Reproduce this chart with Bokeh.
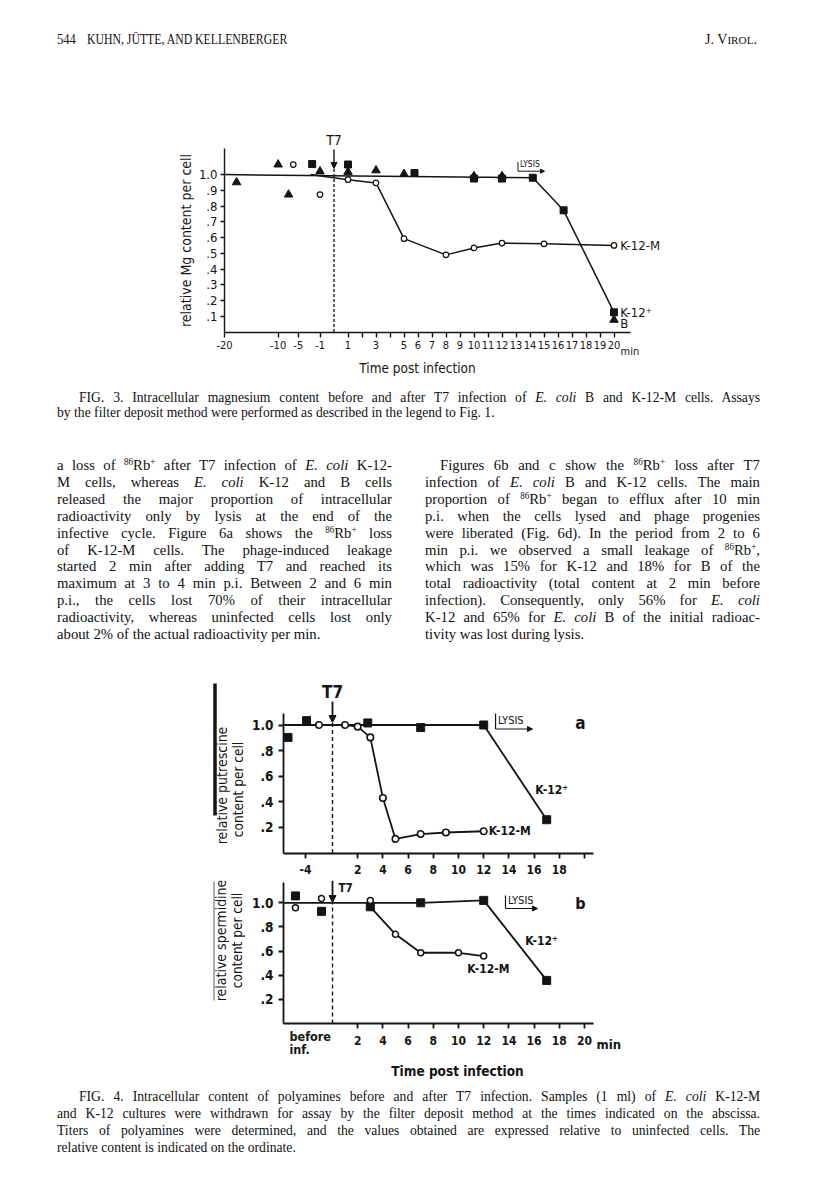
import math
import numpy as np
from bokeh.plotting import figure
from bokeh.models import Div, FixedTicker, Label, Arrow, NormalHead, Range1d
from bokeh.layouts import column
from bokeh.embed import file_html
from bokeh.resources import INLINE

SANS = "DejaVu Sans Condensed"
SERIF = "Liberation Serif"
INK = "#141414"
W = 816

# ================= FIG. 3 : relative Mg content per cell =================
f3_b_time = [-17.75, -10, -7.4, -1, 1, 3, 5, 10, 12, 20]
f3_b_mg = [0.951, 1.064, 0.873, 1.02, 1.017, 1.027, 1.004, 0.99, 0.99, 0.077]
f3_k12_time = [-2.45, 1, 5.75, 10, 12, 14.2, 16.4, 20]
f3_k12_mg = [1.067, 1.064, 1.01, 0.975, 0.975, 0.98, 0.773, 0.125]
f3_k12m_time = [-6.25, -1, 1, 3, 5, 8, 10, 12, 15, 20]
f3_k12m_mg = [1.064, 0.873, 0.968, 0.947, 0.593, 0.49, 0.534, 0.565, 0.56, 0.55]
f3_k12_curve_time = [-20, 14.2, 16.4, 20]
f3_k12_curve_mg = [1.0, 0.98, 0.773, 0.125]
f3_k12m_curve_time = [-2.75, 1, 3, 5, 8, 10, 12, 15, 20]
f3_k12m_curve_mg = [1.0, 0.968, 0.947, 0.593, 0.49, 0.534, 0.565, 0.56, 0.55]
f3_tick_times = [-20, -10, -5, -1] + list(range(1, 21))
f3_tick_labels = ["-20", "-10", "-5", "-1", "1", "", "3", "", "5", "6", "7", "8", "9",
                  "10", "11", "12", "13", "14", "15", "16", "17", "18", "19", "20"]
f3_y_ticks = [0.1, 0.2, 0.3, 0.4, 0.5, 0.6, 0.7, 0.8, 0.9, 1.0]
f3_y_labels = [".1", ".2", ".3", ".4", ".5", ".6", ".7", ".8", ".9", "1.0"]
f3_lysis_time = 13.14
# broken time axis: minutes before infection are compressed
f3_axis_time = [-20, -10, -5, -1, 30]
f3_axis_pos = [-7.82, -3.99, -2.55, -1.0, 30]

# ================= FIG. 4 : polyamines =================
f4a_k12_time = [-6.6, -3.85, 2.8, 7, 12, 17]
f4a_k12_put = [0.903, 1.034, 1.016, 0.98, 1.0, 0.26]
f4a_k12m_time = [-2.0, 1, 2, 3, 4, 5, 7, 9, 12]
f4a_k12m_put = [1.0, 1.0, 0.987, 0.903, 0.43, 0.11, 0.148, 0.16, 0.17]
f4a_k12_curve_time = [-7.27, 12, 17]
f4a_k12_curve_put = [1.0, 1.0, 0.26]
f4a_k12m_curve_time = [1, 2, 3, 4, 5, 7, 9, 12]
f4a_k12m_curve_put = [1.0, 0.987, 0.903, 0.43, 0.11, 0.148, 0.16, 0.17]

f4b_k12_time = [-5.5, -1.63, 3, 7, 12, 17]
f4b_k12_spd = [1.057, 0.929, 0.967, 1.0, 1.02, 0.357]
f4b_k12m_time = [-5.5, -1.63, 3, 5, 7, 10, 12]
f4b_k12m_spd = [0.96, 1.035, 1.02, 0.739, 0.586, 0.586, 0.559]
f4b_k12_curve_time = [-7.27, 7, 12, 17]
f4b_k12_curve_spd = [1.0, 1.0, 1.02, 0.357]
f4b_k12m_curve_time = [3, 5, 7, 10, 12]
f4b_k12m_curve_spd = [0.967, 0.739, 0.586, 0.586, 0.559]

f4a_tick_times = [-4, 2, 4, 6, 8, 10, 12, 14, 16, 18, 20]
f4a_tick_labels = ["-4", "2", "4", "6", "8", "10", "12", "14", "16", "18", ""]
f4b_tick_times = [2, 4, 6, 8, 10, 12, 14, 16, 18, 20]
f4b_tick_labels = ["2", "4", "6", "8", "10", "12", "14", "16", "18", "20"]
f4_y_ticks = [0.2, 0.4, 0.6, 0.8, 1.0]
f4_y_labels = [".2", ".4", ".6", ".8", "1.0"]
f4_lysis_time = [12.94, 13.73]
f4_axis_time = [-10, 0, 30]
f4_axis_pos = [-5.35, 0, 30]


def f3_pos(t):
    return np.interp(np.asarray(t, dtype=float), f3_axis_time, f3_axis_pos)


def f4_pos(t):
    return np.interp(np.asarray(t, dtype=float), f4_axis_time, f4_axis_pos)


# page-pixel geometry of each panel (used for placing annotations)
F3_X0, F3_PX, F3_Y0, F3_PY, F3_TOP, F3_BOT = 333.5, 14.0, 331.5, 157.4, 120, 385
F4_X0, F4_PX = 332.0, 12.6
F4A_Y0, F4A_PY, F4A_TOP, F4A_BOT = 852.5, 128.0, 660, 880
F4B_Y0, F4B_PY, F4B_TOP, F4B_BOT = 1023.0, 120.7, 880, 1085


def f3x(px): return (px - F3_X0) / F3_PX
def f3y(py): return (F3_Y0 - py) / F3_PY
def f4x(px): return (px - F4_X0) / F4_PX
def f4ay(py): return (F4A_Y0 - py) / F4A_PY
def f4by(py): return (F4B_Y0 - py) / F4B_PY


def make_fig(height, xr, yr):
    p = figure(width=W, height=height, x_range=Range1d(*xr), y_range=Range1d(*yr),
               title=None, output_backend="svg", toolbar_location=None,
               outline_line_color=None, background_fill_color="white",
               border_fill_color="white")
    p.min_border_left = p.min_border_right = p.min_border_top = p.min_border_bottom = 0
    p.grid.visible = False
    return p


def style_axis(ax, ticks, labels, bounds, fixed, size, tick_out, standoff, width=1.6,
               weight="normal"):
    ax.fixed_location = float(fixed)
    ax.ticker = FixedTicker(ticks=[float(t) for t in ticks])
    ax.major_label_overrides = {float(t): l for t, l in zip(ticks, labels)}
    ax.bounds = (float(bounds[0]), float(bounds[1]))
    ax.axis_line_color = INK
    ax.axis_line_width = width
    ax.major_tick_line_color = INK
    ax.major_tick_line_width = width
    ax.major_tick_in = 0
    ax.major_tick_out = tick_out
    ax.minor_tick_line_color = None
    ax.major_label_text_font = SANS
    ax.major_label_text_font_size = f"{size}px"
    ax.major_label_text_font_style = weight
    ax.major_label_text_color = INK
    ax.major_label_standoff = standoff


def add_label(p, x, y, text, size, align="left", baseline="middle", angle=0.0, style="normal"):
    p.add_layout(Label(x=float(x), y=float(y), text=text, text_font=SANS,
                       text_font_size=f"{size}px", text_align=align, text_baseline=baseline,
                       angle=angle, text_color=INK, text_font_style=style))


def add_seg(p, x0, y0, x1, y1, width=1.5, dash="solid", head=None, color=INK):
    p.add_layout(Arrow(x_start=float(x0), y_start=float(y0), x_end=float(x1), y_end=float(y1),
                       end=head, start=None, line_width=width, line_color=color, line_dash=dash))


def head(size):
    return NormalHead(size=size, fill_color=INK, line_color=INK, line_width=1)


# ------------------------------ FIG. 3 ------------------------------
p3 = make_fig(F3_BOT - F3_TOP, (f3x(0), f3x(W)), (f3y(F3_BOT), f3y(F3_TOP)))
f3_x_start = float(f3_pos(-20))
style_axis(p3.xaxis[0], list(f3_pos(f3_tick_times)), f3_tick_labels,
           (f3_x_start, f3x(630)), 0.0, 11, 5, 4, 1.4)
style_axis(p3.yaxis[0], f3_y_ticks, f3_y_labels, (0.0, f3y(148)), f3_x_start, 13, 4, 3, 1.4)

p3.line(f3_pos(f3_k12_curve_time), f3_k12_curve_mg, line_color=INK, line_width=1.5)
p3.line(f3_pos(f3_k12m_curve_time), f3_k12m_curve_mg, line_color=INK, line_width=1.5)
p3.scatter(f3_pos(f3_b_time), f3_b_mg, marker="triangle", size=8.5, color=INK)
p3.scatter(f3_pos(f3_k12_time), f3_k12_mg, marker="square", size=7, color=INK)
p3.scatter(f3_pos(f3_k12m_time), f3_k12m_mg, marker="circle", size=5.5,
           fill_color="white", line_color=INK, line_width=1.2)

x_inf3 = float(f3_pos(0))
add_seg(p3, x_inf3, 0.0, x_inf3, f3y(168), 1.3, "3 2")
add_seg(p3, x_inf3, f3y(149), x_inf3, f3y(168), 1.4, head=head(6))
add_label(p3, x_inf3, f3y(147), "T7", 14, "center", "bottom")
xl3 = float(f3_pos(f3_lysis_time))
add_seg(p3, xl3, f3y(161.5), xl3, f3y(170.7), 1.0)
add_seg(p3, xl3, f3y(170.7), f3x(544), f3y(170.7), 1.0, head=head(4))
add_label(p3, xl3 + 0.15, f3y(168.8), "LYSIS", 8.5, "left", "bottom")
add_label(p3, float(f3_pos(f3_k12m_time[-1])) + 0.45, f3_k12m_mg[-1], "K-12-M", 13)
add_label(p3, float(f3_pos(f3_k12_time[-1])) + 0.45, f3_k12_mg[-1], "K-12\u207a", 13)
add_label(p3, float(f3_pos(f3_b_time[-1])) + 0.45, f3_b_mg[-1] - 0.02, "B", 13)
add_label(p3, f3x(620), f3y(351), "min", 11, "left", "alphabetic")
add_label(p3, f3x(417), f3y(367), "Time post infection", 13.5, "center", "middle")
add_label(p3, f3x(185.5), f3y(240), "relative Mg content per cell", 14, "center", "middle",
          math.pi / 2)

# ------------------------------ FIG. 4a ------------------------------
f4_x_start = f4x(283)
f4_x_end = f4x(593)
p4a = make_fig(F4A_BOT - F4A_TOP, (f4x(0), f4x(W)), (f4ay(F4A_BOT), f4ay(F4A_TOP)))
style_axis(p4a.xaxis[0], list(f4_pos(f4a_tick_times)), f4a_tick_labels,
           (f4_x_start, f4_x_end), 0.0, 12, 5, 7, 1.8, "bold")
style_axis(p4a.yaxis[0], f4_y_ticks, f4_y_labels, (0.0, f4ay(713)), f4_x_start, 13.5, 5, 5, 1.8,
           "bold")

p4a.line(f4_pos(f4a_k12_curve_time), f4a_k12_curve_put, line_color=INK, line_width=1.8)
p4a.line(f4_pos(f4a_k12m_curve_time), f4a_k12m_curve_put, line_color=INK, line_width=1.8)
p4a.scatter(f4_pos(f4a_k12_time), f4a_k12_put, marker="square", size=8, color=INK)
p4a.scatter(f4_pos(f4a_k12m_time), f4a_k12m_put, marker="circle", size=6.5,
            fill_color="white", line_color=INK, line_width=1.6)

add_seg(p4a, 0, 0.0, 0, 1.02, 1.4, "4 3")
add_seg(p4a, 0, f4ay(701), 0, f4ay(722), 1.8, head=head(7))
add_label(p4a, 0, f4ay(691.5), "T7", 17, "center", "middle", style="bold")
xl4a = f4_lysis_time[0]
add_seg(p4a, xl4a, f4ay(713), xl4a, f4ay(728.5), 1.2)
add_seg(p4a, xl4a, f4ay(728.5), f4x(532), f4ay(728.5), 1.2, head=head(5))
add_label(p4a, xl4a + 0.2, f4ay(726), "LYSIS", 11, "left", "bottom")
add_label(p4a, f4x(580), f4ay(722), "a", 17, "center", "middle", style="bold")
add_label(p4a, f4a_k12_time[-1] - 0.9, f4a_k12_put[-1] + 0.23, "K-12\u207a", 12, style="bold")
add_label(p4a, f4a_k12m_time[-1] + 0.4, f4a_k12m_put[-1], "K-12-M", 12, style="bold")
add_label(p4a, f4x(221), f4ay(785), "relative putrescine", 14, "center", "middle", math.pi / 2)
add_label(p4a, f4x(237.5), f4ay(789), "content per cell", 13.5, "center", "middle", math.pi / 2)
add_seg(p4a, f4x(214.5), f4ay(683), f4x(214.5), f4ay(815), 3.5)

# ------------------------------ FIG. 4b ------------------------------
p4b = make_fig(F4B_BOT - F4B_TOP, (f4x(0), f4x(W)), (f4by(F4B_BOT), f4by(F4B_TOP)))
style_axis(p4b.xaxis[0], f4b_tick_times, f4b_tick_labels,
           (f4_x_start, f4_x_end), 0.0, 12, 5, 7, 1.8, "bold")
style_axis(p4b.yaxis[0], f4_y_ticks, f4_y_labels, (0.0, f4by(882)), f4_x_start, 13.5, 5, 5, 1.8,
           "bold")

p4b.line(f4_pos(f4b_k12_curve_time), f4b_k12_curve_spd, line_color=INK, line_width=1.8)
p4b.line(f4_pos(f4b_k12m_curve_time), f4b_k12m_curve_spd, line_color=INK, line_width=1.8)
p4b.scatter(f4_pos(f4b_k12_time), f4b_k12_spd, marker="square", size=8, color=INK)
p4b.scatter(f4_pos(f4b_k12m_time), f4b_k12m_spd, marker="circle", size=6,
            fill_color="white", line_color=INK, line_width=1.5)

add_seg(p4b, 0, 0.0, 0, 1.0, 1.4, "4 3")
add_seg(p4b, 0, f4by(880), 0, f4by(902), 1.8, head=head(7))
add_label(p4b, f4x(338), f4by(887), "T7", 11.5, "left", "middle", style="bold")
xl4b = f4_lysis_time[1]
add_seg(p4b, xl4b, f4by(895), xl4b, f4by(908), 1.2)
add_seg(p4b, xl4b, f4by(908), f4x(537), f4by(908), 1.2, head=head(5))
add_label(p4b, xl4b + 0.2, f4by(906), "LYSIS", 11, "left", "bottom")
add_label(p4b, f4x(580), f4by(903), "b", 16, "center", "middle", style="bold")
add_label(p4b, f4b_k12_time[-1] - 1.7, f4b_k12_spd[-1] + 0.33, "K-12\u207a", 12, style="bold")
add_label(p4b, f4b_k12m_time[-1] - 1.3, f4b_k12m_spd[-1] - 0.105, "K-12-M", 12, style="bold")
add_label(p4b, f4x(220), f4by(940), "relative spermidine", 14, "center", "middle", math.pi / 2)
add_label(p4b, f4x(236.5), f4by(940), "content per cell", 13.5, "center", "middle", math.pi / 2)
add_seg(p4b, f4x(213.5), f4by(881), f4x(213.5), f4by(1000), 1.2, color="#777777")
add_label(p4b, f4x(289), f4by(1036), "before", 12.5, "left", "middle", style="bold")
add_label(p4b, f4x(289), f4by(1049), "inf.", 12.5, "left", "middle", style="bold")
add_label(p4b, f4x(596), f4by(1044), "min", 13, "left", "middle", style="bold")
add_label(p4b, f4x(457), f4by(1070), "Time post infection", 13.5, "center", "middle",
          style="bold")

# ------------------------------ TEXT ------------------------------
SUP = '<style>sup{font-size:0.62em;line-height:0;vertical-align:0.55em;}</style>'
RB = '<sup>86</sup>Rb<sup>+</sup>'
EC = '<i>E. coli</i>'


def tline(html, left, center, width, size, lh, justify, indent=0, scale=0.95):
    w = (width - indent) / scale
    align = "justify" if justify else "left"
    top = center - lh / 2.0
    return (f'<div style="position:absolute;left:{left + indent}px;top:{top:.1f}px;'
            f'width:{w:.1f}px;height:{lh}px;line-height:{lh}px;font-size:{size}px;'
            f'text-align:{align};text-align-last:{align};white-space:nowrap;'
            f'transform:scaleX({scale});transform-origin:0 0;margin:0;padding:0;">{html}</div>')


def block(inner, height):
    return (f'{SUP}<div style="position:relative;width:{W}px;height:{height}px;'
            f'font-family:\'{SERIF}\';color:#111;">{inner}</div>')


HDR_TOP, TXT_TOP, CAP4_TOP = 0, F3_BOT, F4B_BOT
hdr = ''.join([
    tline('544', 57, 40, 30, 14, 16, False, 0, 0.9),
    tline('KUHN, J\u00dcTTE, AND KELLENBERGER', 87, 40, 300, 14, 16, False, 0, 0.84),
    '<div style="position:absolute;right:59px;top:32px;font-size:14px;line-height:16px;">'
    'J. V<span style="font-size:0.8em">IROL</span>.</div>',
])
header_div = Div(text=block(hdr, F3_TOP - HDR_TOP), width=W, height=F3_TOP - HDR_TOP, margin=0)

cap3 = [
    ("FIG. 3. Intracellular magnesium content before and after T7 infection of " + EC +
     " B and K-12-M cells. Assays", True, 22),
    ("by the filter deposit method were performed as described in the legend to Fig. 1.", False, 0),
]
left_col = [
    "a loss of " + RB + " after T7 infection of " + EC + " K-12-",
    "M cells, whereas " + EC + " K-12 and B cells",
    "released the major proportion of intracellular",
    "radioactivity only by lysis at the end of the",
    "infective cycle. Figure 6a shows the " + RB + " loss",
    "of K-12-M cells. The phage-induced leakage",
    "started 2 min after adding T7 and reached its",
    "maximum at 3 to 4 min p.i. Between 2 and 6 min",
    "p.i., the cells lost 70% of their intracellular",
    "radioactivity, whereas uninfected cells lost only",
    "about 2% of the actual radioactivity per min.",
]
right_col = [
    "Figures 6b and c show the " + RB + " loss after T7",
    "infection of " + EC + " B and K-12 cells. The main",
    "proportion of " + RB + " began to efflux after 10 min",
    "p.i. when the cells lysed and phage progenies",
    "were liberated (Fig. 6d). In the period from 2 to 6",
    "min p.i. we observed a small leakage of " + RB + ",",
    "which was 15% for K-12 and 18% for B of the",
    "total radioactivity (total content at 2 min before",
    "infection). Consequently, only 56% for " + EC,
    "K-12 and 65% for " + EC + " B of the initial radioac-",
    "tivity was lost during lysis.",
]
parts = []
for i, (t, j, ind) in enumerate(cap3):
    parts.append(tline(t, 57, 397 - TXT_TOP + 15 * i, 703, 14.5, 15, j, ind, 0.94))
for i, t in enumerate(left_col):
    parts.append(tline(t, 57, 464.5 - TXT_TOP + 16.9 * i, 335, 15.5, 17,
                       i < len(left_col) - 1))
for i, t in enumerate(right_col):
    parts.append(tline(t, 425, 464.5 - TXT_TOP + 16.9 * i, 335, 15.5, 17,
                       i < len(right_col) - 1, 15 if i == 0 else 0))
text_div = Div(text=block(''.join(parts), F4A_TOP - TXT_TOP), width=W,
               height=F4A_TOP - TXT_TOP, margin=0)

cap4 = [
    ("FIG. 4. Intracellular content of polyamines before and after T7 infection. Samples (1 ml) of "
     + EC + " K-12-M", True, 22),
    ("and K-12 cultures were withdrawn for assay by the filter deposit method at the times indicated "
     "on the abscissa.", True, 0),
    ("Titers of polyamines were determined, and the values obtained are expressed relative to "
     "uninfected cells. The", True, 0),
    ("relative content is indicated on the ordinate.", False, 0),
]
CAP4_H = 105
parts4 = [tline(t, 57, 1096 - CAP4_TOP + 17 * i, 703, 14.5, 15, j, ind, 0.94)
          for i, (t, j, ind) in enumerate(cap4)]
cap_div = Div(text=block(''.join(parts4), CAP4_H), width=W, height=CAP4_H, margin=0)

layout = column(header_div, p3, text_div, p4a, p4b, cap_div, spacing=0, margin=0)
open("out.html", "w").write(file_html(layout, INLINE, title="Kuhn, Jutte and Kellenberger p. 544"))
